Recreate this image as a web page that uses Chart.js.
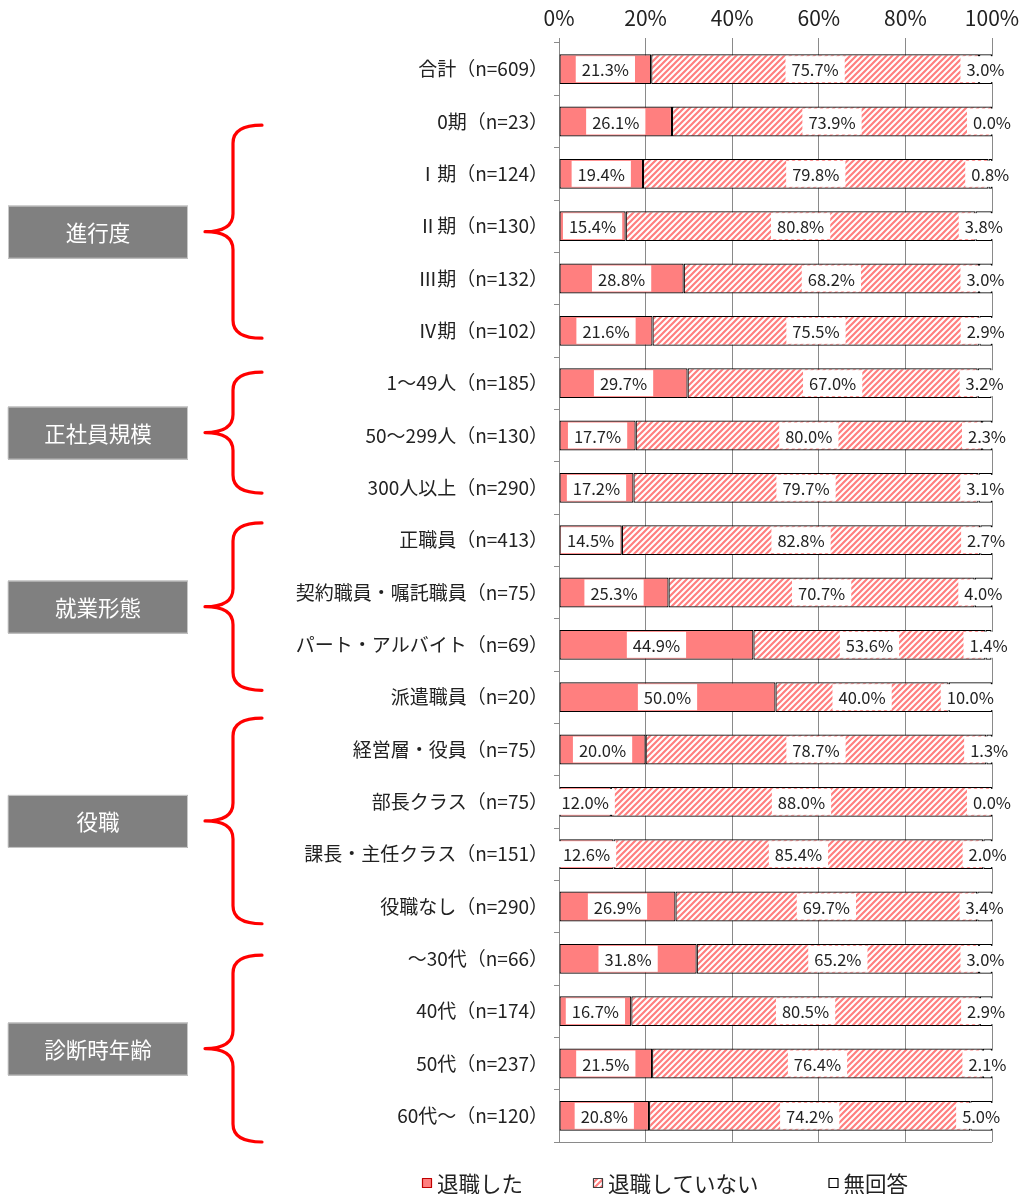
<!DOCTYPE html>
<html lang="ja">
<head>
<meta charset="utf-8">
<title>退職の有無（属性別）</title>
<script src="https://cdn.jsdelivr.net/npm/chart.js@4/dist/chart.umd.min.js"></script>
<style>
  html, body { margin: 0; padding: 0; background: #fff; }
  #wrap { width: 1021px; height: 1194px; }
</style>
</head>
<body>
<div id="wrap"><canvas id="c" width="1021" height="1194"></canvas></div>
<script>
// ---- data ----
const categories = [
  '合計（n=609）',
  '0期（n=23）',
  'Ⅰ期（n=124）',
  'Ⅱ期（n=130）',
  'Ⅲ期（n=132）',
  'Ⅳ期（n=102）',
  '1～49人（n=185）',
  '50～299人（n=130）',
  '300人以上（n=290）',
  '正職員（n=413）',
  '契約職員・嘱託職員（n=75）',
  'パート・アルバイト（n=69）',
  '派遣職員（n=20）',
  '経営層・役員（n=75）',
  '部長クラス（n=75）',
  '課長・主任クラス（n=151）',
  '役職なし（n=290）',
  '～30代（n=66）',
  '40代（n=174）',
  '50代（n=237）',
  '60代～（n=120）'
];
const quit     = [21.3, 26.1, 19.4, 15.4, 28.8, 21.6, 29.7, 17.7, 17.2, 14.5, 25.3, 44.9, 50.0, 20.0, 12.0, 12.6, 26.9, 31.8, 16.7, 21.5, 20.8];
const notQuit  = [75.7, 73.9, 79.8, 80.8, 68.2, 75.5, 67.0, 80.0, 79.7, 82.8, 70.7, 53.6, 40.0, 78.7, 88.0, 85.4, 69.7, 65.2, 80.5, 76.4, 74.2];
const noAnswer = [ 3.0,  0.0,  0.8,  3.8,  3.0,  2.9,  3.2,  2.3,  3.1,  2.7,  4.0,  1.4, 10.0,  1.3,  0.0,  2.0,  3.4,  3.0,  2.9,  2.1,  5.0];
const seriesNames = ['退職した', '退職していない', '無回答'];
const xTicks = [0, 20, 40, 60, 80, 100];

// grouping of the rows (indexes into categories)
const groupNames = ['進行度', '正社員規模', '就業形態', '役職', '診断時年齢'];
const groupFirst = [1, 6, 9, 13, 17];
const groupLast  = [5, 8, 12, 16, 20];

// ---- styles ----
const FONT = '"Noto Sans CJK JP", "Noto Sans", sans-serif';
const PINK = '#ff7f7f';
const GRID = '#8a8a8a';
const TEXT = '#222222';
// how far each brace reaches beyond its first / last row, in row heights
const braceReach = [[-0.07, 0.14], [0.21, 0.10], [0.33, -0.13], [0.60, 0.33], [0.07, 0.50]];

const canvas = document.getElementById('c');
const ctx = canvas.getContext('2d');

function makeHatch() {
  const s = 6;
  const t = document.createElement('canvas');
  t.width = s; t.height = s;
  const g = t.getContext('2d');
  g.fillStyle = '#ffffff';
  g.fillRect(0, 0, s, s);
  g.strokeStyle = PINK;
  g.lineWidth = 2.2;
  g.beginPath();
  g.moveTo(-1, s + 1); g.lineTo(s + 1, -1);
  g.moveTo(-1, 1); g.lineTo(1, -1);
  g.moveTo(s - 1, s + 1); g.lineTo(s + 1, s - 1);
  g.stroke();
  return ctx.createPattern(t, 'repeat');
}
const hatch = makeHatch();
const fills = [PINK, hatch, '#ffffff'];

Chart.defaults.font.family = FONT;
Chart.defaults.color = TEXT;

// white boxed percentage labels at the middle of each segment
const valueLabels = {
  id: 'valueLabels',
  afterDatasetsDraw(chart) {
    const c = chart.ctx;
    c.save();
    c.font = '16.5px ' + FONT;
    c.textAlign = 'center';
    c.textBaseline = 'middle';
    chart.data.datasets.forEach((ds, di) => {
      const meta = chart.getDatasetMeta(di);
      meta.data.forEach((bar, i) => {
        const p = bar.getProps(['x', 'y', 'base'], true);
        const txt = ds.data[i].toFixed(1) + '%';
        const cx = (p.x + p.base) / 2;
        const w = c.measureText(txt).width + 12;
        const h = 26;
        c.fillStyle = '#ffffff';
        c.fillRect(cx - w / 2, p.y - h / 2, w, h);
        c.fillStyle = TEXT;
        c.fillText(txt, cx, p.y + 1);
      });
    });
    c.restore();
  }
};

// group captions with braces, bottom rule and legend
const decorations = {
  id: 'decorations',
  beforeDatasetsDraw(chart) {
    const c = chart.ctx, a = chart.chartArea;
    c.save();
    c.strokeStyle = GRID;
    c.lineWidth = 1;
    c.beginPath();
    c.moveTo(a.left - 5, a.bottom + 0.5);
    c.lineTo(a.right, a.bottom + 0.5);
    c.stroke();
    c.restore();
  },
  afterDraw(chart) {
    const c = chart.ctx, y = chart.scales.y;
    const pitch = y.getPixelForValue(1) - y.getPixelForValue(0);
    c.save();
    groupNames.forEach((name, g) => {
      const top = y.getPixelForValue(groupFirst[g]) - braceReach[g][0] * pitch;
      const bottom = y.getPixelForValue(groupLast[g]) + braceReach[g][1] * pitch;
      const mid = (top + bottom) / 2;
      // caption box
      c.fillStyle = '#808080';
      c.fillRect(8, mid - 26, 180, 53);
      c.strokeStyle = '#c8c8c8';
      c.lineWidth = 1;
      c.strokeRect(8.5, mid - 25.5, 179, 52);
      c.fillStyle = '#ffffff';
      c.font = '21.5px ' + FONT;
      c.textAlign = 'center';
      c.textBaseline = 'middle';
      c.fillText(name, 98, mid + 1);
      // brace
      const xe = 262, xv = 233, xt = 205, r = 18;
      c.strokeStyle = '#ff0000';
      c.lineWidth = 3.2;
      c.lineCap = 'round';
      c.lineJoin = 'round';
      c.beginPath();
      c.moveTo(xe, top);
      c.quadraticCurveTo(xv, top, xv, top + r);
      c.lineTo(xv, mid - r);
      c.quadraticCurveTo(xv, mid, xt, mid);
      c.quadraticCurveTo(xv, mid, xv, mid + r);
      c.lineTo(xv, bottom - r);
      c.quadraticCurveTo(xv, bottom, xe, bottom);
      c.stroke();
    });

    // legend
    const ly = 1183;
    let lx = 422;
    c.font = '21.5px ' + FONT;
    c.textAlign = 'left';
    c.textBaseline = 'middle';
    const borders = ['#c00000', '#404040', '#000000'];
    seriesNames.forEach((name, i) => {
      c.fillStyle = fills[i];
      c.fillRect(lx, ly - 5, 10, 10);
      c.strokeStyle = borders[i];
      c.lineWidth = 1.2;
      c.strokeRect(lx + 0.5, ly - 4.5, 9, 9);
      c.fillStyle = TEXT;
      c.fillText(name, lx + 15, ly + 1);
      lx += 15 + c.measureText(name).width + 70;
    });
    c.restore();
  }
};

const series = [quit, notQuit, noAnswer];

new Chart(ctx, {
  type: 'bar',
  data: {
    labels: categories,
    datasets: series.map((d, i) => ({
      label: seriesNames[i],
      data: d,
      backgroundColor: fills[i],
      borderColor: '#000000',
      borderWidth: 1.2,
      borderSkipped: false,
      categoryPercentage: 1,
      barPercentage: 0.57
    }))
  },
  options: {
    indexAxis: 'y',
    responsive: false,
    animation: false,
    devicePixelRatio: 1,
    layout: { padding: { left: 0, right: 29, top: 0, bottom: 52 } },
    plugins: {
      legend: { display: false },
      tooltip: { enabled: false },
      title: { display: false }
    },
    scales: {
      x: {
        position: 'top',
        stacked: true,
        min: 0,
        max: 100,
        afterBuildTicks(s) { s.ticks = xTicks.map(v => ({ value: v })); },
        ticks: {
          callback: v => v + '%',
          font: { size: 21 },
          color: TEXT,
          padding: 7,
          maxRotation: 0
        },
        grid: { color: GRID, lineWidth: 1, tickLength: 5 },
        border: { display: false },
        afterFit(s) { s.height = 43; s.paddingLeft = 0; s.paddingRight = 29; }
      },
      y: {
        stacked: true,
        ticks: { font: { size: 19 }, color: TEXT, padding: 6, autoSkip: false },
        grid: { offset: true, drawOnChartArea: false, tickLength: 5, color: GRID },
        border: { color: GRID },
        afterFit(s) { s.width = 559; }
      }
    }
  },
  plugins: [valueLabels, decorations]
});
</script>
</body>
</html>
